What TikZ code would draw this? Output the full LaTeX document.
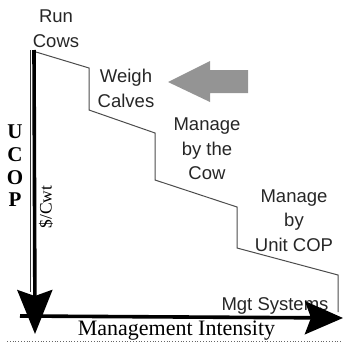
\documentclass[tikz,border=0pt]{standalone}
\usepackage{fontspec}
\setmainfont{Liberation Serif}
\setsansfont{Liberation Sans}
\usetikzlibrary{arrows.meta,positioning}

\begin{document}
\begin{tikzpicture}[x=1pt, y=-1pt]
        % Define styles
        \tikzset{
            stage/.style={font=\sffamily\fontsize{18.5}{24.5}\selectfont, align=center, inner sep=0pt, text=black!85},
            axis/.style={line width=3.6pt, -{Stealth[length=44pt, width=35pt, inset=6pt]}},
            stair/.style={line width=1pt, black!70},
            axislabel/.style={font=\fontsize{22}{22}\selectfont, inner sep=0pt}
        }
        \useasboundingbox (0,0) rectangle (343,343);

        % Create coordinates
        \coordinate (top) at (34,50);
        \coordinate (bottom) at (35,334);
        \coordinate (origin) at (20,316);
        \coordinate (right) at (343,318);
        \coordinate (s0) at (36,52);
        \coordinate (s1) at (89,68);
        \coordinate (s2) at (89,110);
        \coordinate (s3) at (155,133);
        \coordinate (s4) at (155,180);
        \coordinate (s5) at (237,207);
        \coordinate (s6) at (237,248);
        \coordinate (s7) at (338,275);
        \coordinate (s8) at (338,312);

        % Create nodes
        \node [stage] (run) at (56,28.5) {Run\\Cows};
        \node [stage] (weigh) at (126,88.5) {Weigh\\Calves};
        \node [stage] (cow) at (207,149) {Manage\\by the\\Cow};
        \node [stage] (unit) at (294,220.5) {Manage\\by\\Unit COP};
        \node [stage, anchor=base] (mgt) at (275,310) {Mgt Systems};
        \node [axislabel, anchor=base] (intensity) at (176.5,335) {Management Intensity};
        \node [axislabel, font=\bfseries\fontsize{21}{22.7}\selectfont, align=center] (ucop) at (15,166) {U\\C\\O\\P};
        \node [axislabel, font=\fontsize{17.5}{17.5}\selectfont, rotate=90] (cwt) at (46,207) {\$/Cwt};

        % Create staircase
        \draw [stair] (s0) -- (s1) -- (s2) -- (s3) -- (s4) -- (s5) -- (s6) -- (s7) -- (s8);

        % Create axes
        \draw [black!80, line width=0.8pt] (30,50) -- (30,292);
        \draw [axis] (top) -- (bottom);
        \draw [axis, -{Stealth[length=38pt, width=33pt, inset=6pt]}] (origin) -- (right);
        \draw [black!60, dotted, line width=0.8pt] (7,341.5) -- (343,341.5);

        % Add gray arrow
        \fill [black!42] (168,82) -- (210,61) -- (210,70) -- (248,70) -- (248,93) -- (210,93) -- (210,102) -- cycle;
    \end{tikzpicture}
\end{document}
